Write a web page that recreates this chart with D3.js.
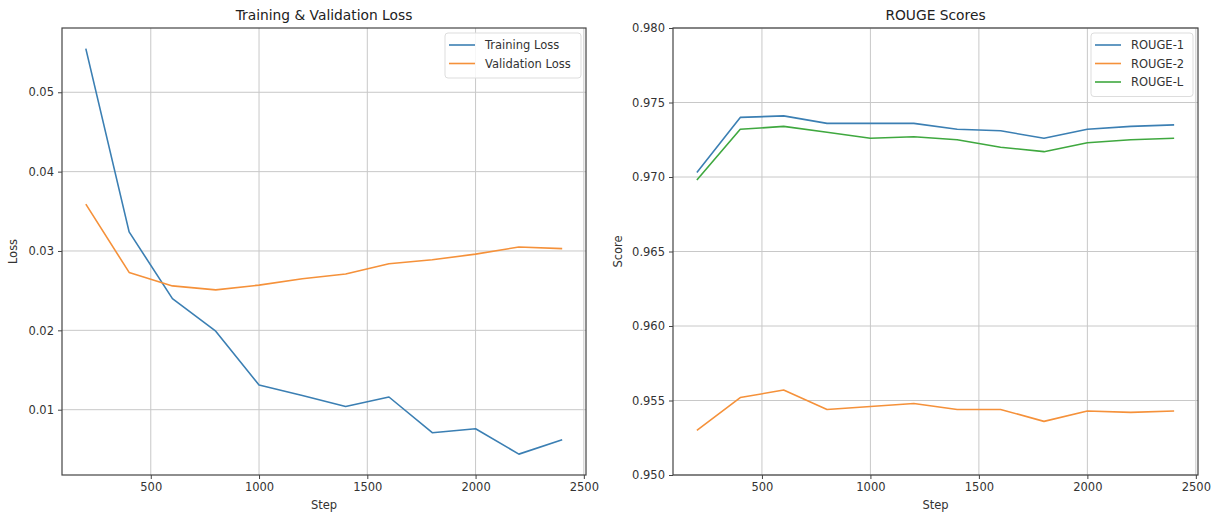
<!DOCTYPE html>
<html>
<head>
<meta charset="utf-8">
<script src="https://cdn.jsdelivr.net/npm/d3@7"></script>
<style>
    body { margin: 0; background: #fff; }
    svg { display: block; font-family: "DejaVu Sans", sans-serif; }
</style>
</head>
<body>
<div id="chart"></div>
<script>
// steps logged during training
const steps = [200, 400, 600, 800, 1000, 1200, 1400, 1600, 1800, 2000, 2200, 2400];

const trainingLoss   = [0.0555, 0.0324, 0.0240, 0.0199, 0.0131, 0.0118, 0.0104, 0.0116, 0.0071, 0.0076, 0.0044, 0.0062];
const validationLoss = [0.0359, 0.0273, 0.0256, 0.0251, 0.0257, 0.0265, 0.0271, 0.0284, 0.0289, 0.0296, 0.0305, 0.0303];

const rouge1 = [0.9703, 0.9740, 0.9741, 0.9736, 0.9736, 0.9736, 0.9732, 0.9731, 0.9726, 0.9732, 0.9734, 0.9735];
const rouge2 = [0.9530, 0.9552, 0.9557, 0.9544, 0.9546, 0.9548, 0.9544, 0.9544, 0.9536, 0.9543, 0.9542, 0.9543];
const rougeL = [0.9698, 0.9732, 0.9734, 0.9730, 0.9726, 0.9727, 0.9725, 0.9720, 0.9717, 0.9723, 0.9725, 0.9726];

const xTicks = [500, 1000, 1500, 2000, 2500];
const lossTicks = [0.01, 0.02, 0.03, 0.04, 0.05];
const scoreTicks = [0.950, 0.955, 0.960, 0.965, 0.970, 0.975, 0.980];

const blue = "#3b7fb3", orange = "#f5913a", green = "#3fa83f";

const svg = d3.select("#chart").append("svg")
    .attr("width", 1222)
    .attr("height", 515);

function drawPanel(opts) {
    var g = svg.append("g");
    var x = d3.scaleLinear().domain(opts.xDomain).range([opts.left, opts.right]);
    var y = d3.scaleLinear().domain(opts.yDomain).range([opts.bottom, opts.top]);

    // grid
    g.selectAll(".vgrid").data(xTicks.filter(t => x(t) <= opts.right)).enter()
        .append("line")
        .attr("x1", d => x(d)).attr("x2", d => x(d))
        .attr("y1", opts.top).attr("y2", opts.bottom)
        .attr("stroke", "#c8c8c8").attr("stroke-width", 1);
    g.selectAll(".hgrid").data(opts.yTicks).enter()
        .append("line")
        .attr("x1", opts.left).attr("x2", opts.right)
        .attr("y1", d => y(d)).attr("y2", d => y(d))
        .attr("stroke", "#c8c8c8").attr("stroke-width", 1);

    // axes
    var xAxis = g.append("g")
        .attr("transform", "translate(0," + opts.bottom + ")")
        .call(d3.axisBottom(x).tickValues(xTicks).tickSize(4).tickPadding(4).tickFormat(d3.format("d")));
    var yAxis = g.append("g")
        .attr("transform", "translate(" + opts.left + ",0)")
        .call(d3.axisLeft(y).tickValues(opts.yTicks).tickSize(4).tickPadding(4).tickFormat(opts.yFormat));
    [xAxis, yAxis].forEach(a => {
        a.select(".domain").remove();
        a.selectAll("line").attr("stroke", "#444");
        a.selectAll("text").attr("fill", "#333").style("font-size", "11.5px")
            .style("font-family", "DejaVu Sans");
    });

    // frame
    g.append("rect")
        .attr("x", opts.left).attr("y", opts.top)
        .attr("width", opts.right - opts.left).attr("height", opts.bottom - opts.top)
        .attr("fill", "none").attr("stroke", "#444").attr("stroke-width", 1.2);

    // lines
    var line = d3.line().x((d, i) => x(steps[i])).y(d => y(d));
    opts.series.forEach(s => {
        g.append("path")
            .datum(s.values)
            .attr("d", line)
            .attr("fill", "none")
            .attr("stroke", s.color)
            .attr("stroke-width", 1.6)
            .attr("stroke-linejoin", "round");
    });

    // title and labels
    var cx = (opts.left + opts.right) / 2;
    g.append("text").attr("x", cx).attr("y", 20)
        .attr("text-anchor", "middle").attr("fill", "#222")
        .style("font-size", "13.8px").text(opts.title);
    g.append("text").attr("x", cx).attr("y", 509)
        .attr("text-anchor", "middle").attr("fill", "#333")
        .style("font-size", "11.5px").text("Step");
    g.append("text")
        .attr("transform", "translate(" + opts.yLabelX + "," + ((opts.top + opts.bottom) / 2) + ") rotate(-90)")
        .attr("text-anchor", "middle").attr("fill", "#333")
        .style("font-size", "11.5px").text(opts.yLabel);

    // legend
    var lw = opts.legendWidth, lh = 8 + opts.series.length * 18.5;
    var lx = opts.right - 5 - lw, ly = opts.top + 5;
    var leg = g.append("g").attr("transform", "translate(" + lx + "," + ly + ")");
    leg.append("rect").attr("width", lw).attr("height", lh).attr("rx", 3)
        .attr("fill", "#fff").attr("fill-opacity", 0.85)
        .attr("stroke", "#ddd");
    opts.series.forEach((s, i) => {
        var yy = 12 + i * 18.5;
        leg.append("line").attr("x1", 4).attr("x2", 30).attr("y1", yy).attr("y2", yy)
            .attr("stroke", s.color).attr("stroke-width", 1.6);
        leg.append("text").attr("x", 40).attr("y", yy + 4)
            .attr("fill", "#333").style("font-size", "11.5px").text(s.name);
    });
}

drawPanel({
    left: 62, right: 586, top: 28, bottom: 475,
    xDomain: [90, 2510],
    yDomain: [0.00177, 0.0581],
    yTicks: lossTicks,
    yFormat: d3.format(".2f"),
    title: "Training & Validation Loss",
    yLabel: "Loss", yLabelX: 17,
    legendWidth: 136,
    series: [
        { name: "Training Loss", values: trainingLoss, color: blue },
        { name: "Validation Loss", values: validationLoss, color: orange }
    ]
});

drawPanel({
    left: 673, right: 1198, top: 28, bottom: 475,
    xDomain: [90, 2510],
    yDomain: [0.950, 0.980],
    yTicks: scoreTicks,
    yFormat: d3.format(".3f"),
    title: "ROUGE Scores",
    yLabel: "Score", yLabelX: 622,
    legendWidth: 102,
    series: [
        { name: "ROUGE-1", values: rouge1, color: blue },
        { name: "ROUGE-2", values: rouge2, color: orange },
        { name: "ROUGE-L", values: rougeL, color: green }
    ]
});
</script>
</body>
</html>
